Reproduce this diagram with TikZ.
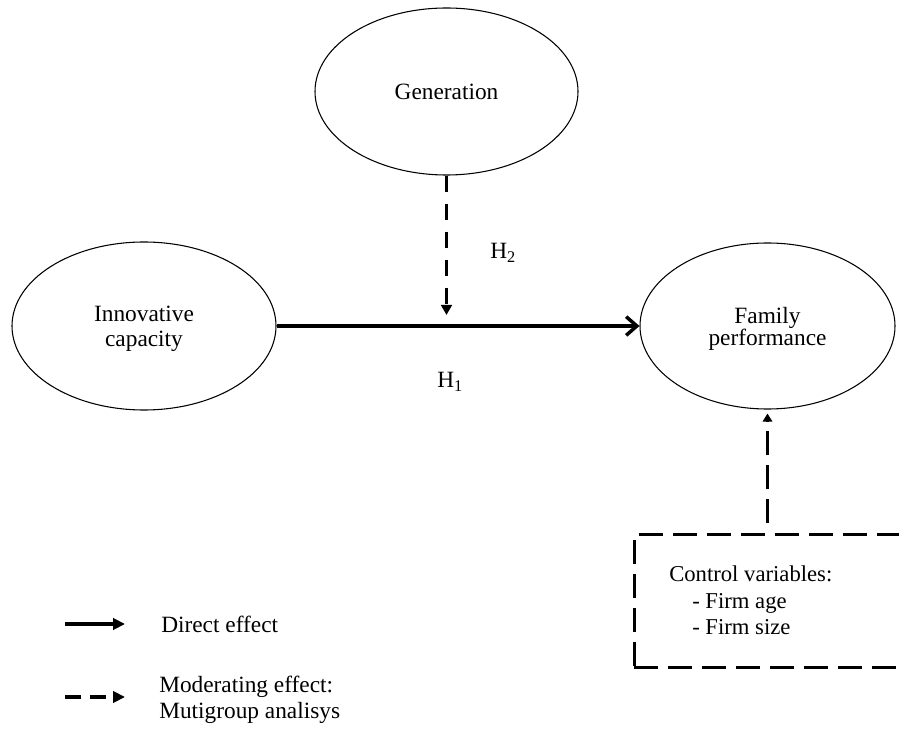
\documentclass[tikz,border=0pt]{standalone}
\usepackage{fontspec}
\setmainfont{Liberation Serif}
\usetikzlibrary{arrows.meta,shapes.geometric}
\begin{document}
\begin{tikzpicture}[x=0.75pt,y=-0.75pt,
  latent/.style={ellipse, draw, line width=0.8pt, inner sep=0pt, align=center,
                 font=\fontsize{17.5}{18.75}\selectfont},
  lbl/.style={inner sep=0pt, font=\fontsize{17.5}{19.5}\selectfont},
  ctrltext/.style={inner sep=0pt, align=left, font=\fontsize{17}{19.9}\selectfont},
  direct/.style={line width=2.6pt, -{Straight Barb[length=8pt,width=14pt]}},
  moder/.style={line width=2.6pt, dash pattern=on 12pt off 9pt, -{Triangle[length=7.5pt,width=8pt]}},
  ctrlbox/.style={draw, line width=2pt, dash pattern=on 18pt off 7.5pt, inner sep=0pt},
  ctrlarrow/.style={line width=2pt, dash pattern=on 18pt off 7.5pt, dash phase=18pt,
                    -{Triangle[length=6pt,width=7pt]}, shorten >=3pt},
  legsolid/.style={line width=2.6pt, -{Triangle[length=9pt,width=8.5pt]}},
  legdash/.style={line width=2.6pt, dash pattern=on 12pt off 7pt, -{Triangle[length=9pt,width=8.5pt]}}
]
\useasboundingbox (0,0) rectangle (899,730);
\clip (0,0) rectangle (899,730);

% latent variables
\node[latent, minimum width=198pt, minimum height=126pt] (inn) at (144,326)
  {\rule{0pt}{16pt}Innovative\\capacity};
\node[latent, minimum width=197.25pt, minimum height=125.25pt] (gen) at (446.5,91.5) {Generation};
\node[latent, minimum width=191.25pt, minimum height=124.5pt,
      font=\fontsize{17.5}{15.75}\selectfont] (fam) at (767.5,326)
  {\rule{0pt}{16.5pt}Family\\performance};

% direct effect
\draw[direct] (inn.east) -- (fam.west);
\node[lbl, anchor=base west] (h1) at (437,388) {H\textsubscript{1}};

% moderating effect
\coordinate (modtip) at (446.5,315);
\draw[moder] (gen.south) -- (modtip);
\node[lbl, anchor=base west] (h2) at (490,259) {H\textsubscript{2}};

% control variables
\node[ctrlbox, anchor=north west, minimum width=216pt, minimum height=99.6pt] (ctrl) at (633,533.3) {};
\node[ctrltext, anchor=west] (ctxt) at (669,600.7)
  {Control variables:\\\hspace*{17.25pt}- Firm age\\\hspace*{17.25pt}- Firm size};
\draw[ctrlarrow] (ctrl.north -| fam.south) -- (fam.south);

% legend
\coordinate (s1) at (65,624);
\coordinate (e1) at (125,624);
\draw[legsolid] (s1) -- (e1);
\node[lbl, anchor=west] (dtxt) at (161,624) {Direct effect};
\coordinate (s2) at (65,697);
\coordinate (e2) at (125,697);
\draw[legdash] (s2) -- (e2);
\node[lbl, anchor=west, align=left] (mtxt) at (159,699.5) {Moderating effect:\\Mutigroup analisys};
\end{tikzpicture}
\end{document}
